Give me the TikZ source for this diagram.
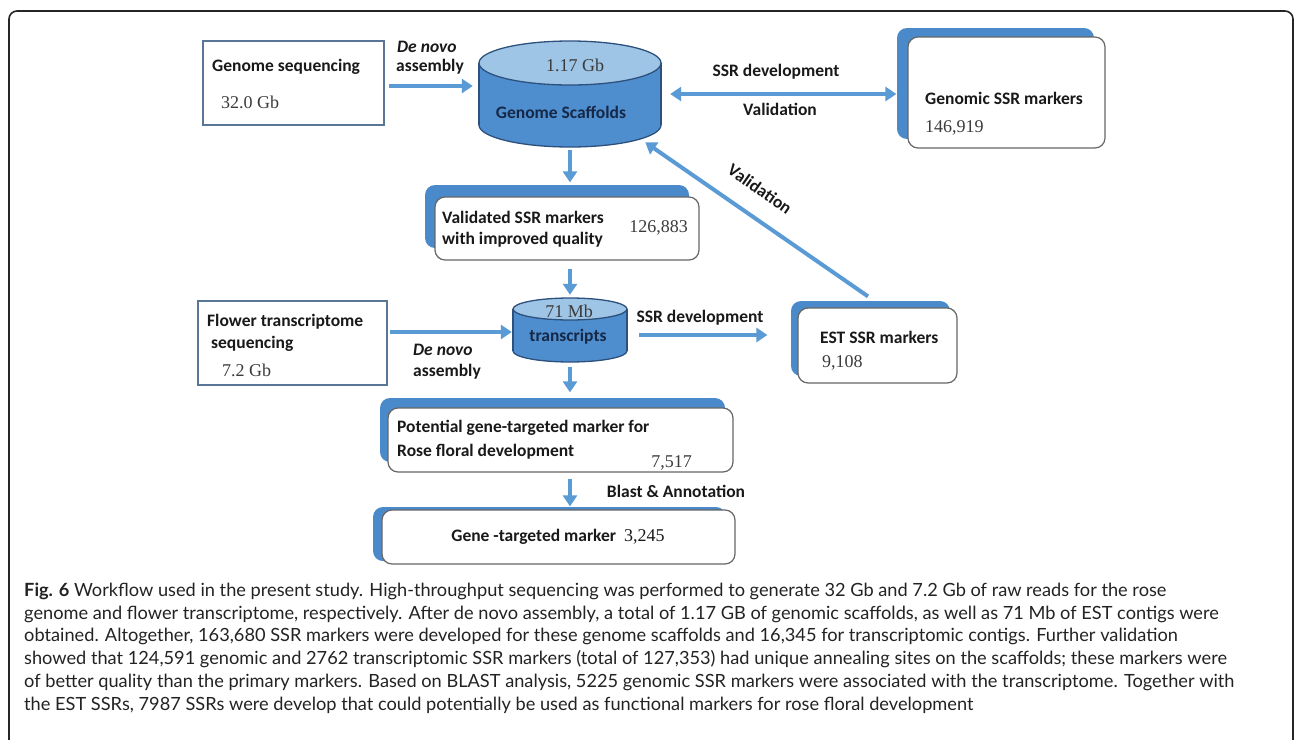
\documentclass[tikz,border=0pt]{standalone}
\usepackage{fontspec}
\setmainfont{Liberation Serif}
\newfontfamily\labfont{Carlito}
\newfontfamily\capfont{Lato}
\usetikzlibrary{arrows.meta,shadows}
\definecolor{arrblue}{RGB}{91,155,213}
\definecolor{backblue}{RGB}{74,137,202}
\definecolor{cylside}{RGB}{78,142,206}
\definecolor{cyltop}{RGB}{158,196,230}
\definecolor{cylline}{RGB}{45,80,125}
\definecolor{boxline}{RGB}{90,118,150}
\definecolor{txt}{RGB}{25,25,25}
\definecolor{captxt}{RGB}{35,35,35}
\definecolor{navy}{RGB}{22,40,70}
\begin{document}
\begin{tikzpicture}[x=1pt,y=-1pt,
  >={Triangle[length=11pt,width=14pt]},
  lab/.style={font=\labfont\bfseries\fontsize{17.5}{20}\selectfont, text=txt, inner sep=0pt},
  num/.style={font=\fontsize{18}{20}\selectfont, text=txt!85, inner sep=0pt},
  capline/.style={font=\capfont\fontsize{18.2}{21}\selectfont, text=captxt, inner sep=0pt, anchor=base west},
  arr/.style={draw=arrblue, line width=4.5pt},
  sbox/.style={draw=boxline, line width=1.6pt, fill=white, inner sep=0pt},
  wbox/.style={draw=black!60, line width=1.2pt, fill=white, rounded corners=10pt, inner sep=0pt},
  anchorbox/.style={inner sep=0pt}
]
\useasboundingbox (0,0) rectangle (1295,739);
\fill[white] (0,0) rectangle (1295,739);
% outer frame
\draw[black!85, line width=1.6pt, rounded corners=8pt] (9,745) -- (9,11) -- (1293,11) -- (1293,745);

% Genome sequencing box
\node[sbox, minimum width=181pt, minimum height=84pt] (gseq) at (293.5,83) {};
\node[lab, anchor=west] (gseqt) at (212,67) {Genome sequencing};
\node[num, anchor=west] (gseqn) at (221,102) {32.0 Gb};

% Genome scaffolds cylinder
\node[anchorbox, minimum width=182pt, minimum height=106pt] (gs) at (570,94) {};
\filldraw[fill=cylside, draw=cylline, line width=1.3pt] (570,125) ellipse [x radius=91, y radius=22];
\fill[cylside] (479,63) rectangle (661,125);
\draw[cylline, line width=1.3pt] (479,63) -- (479,125) (661,63) -- (661,125);
\filldraw[fill=cyltop, draw=cylline, line width=1.3pt] (570,63) ellipse [x radius=91, y radius=22];
\node[num] (gsn) at (575,65) {1.17 Gb};
\node[lab, text=navy] (gst) at (561,112) {Genome Scaffolds};

% Genomic SSR markers
\node[wbox, copy shadow={shadow xshift=-11pt, shadow yshift=9pt, fill=backblue, draw=none}, minimum width=197pt, minimum height=111pt] (gssr) at (1006.5,92.5) {};
\node[lab, anchor=west] (gssrt) at (925,98) {Genomic SSR markers};
\node[num, anchor=west] (gssrn) at (925,128) {146,919};

% Validated box
\node[wbox, copy shadow={shadow xshift=-10pt, shadow yshift=12pt, fill=backblue, draw=none}, minimum width=264pt, minimum height=63pt] (val) at (567,228.5) {};
\node[lab, anchor=west] (valt1) at (442,217) {Validated SSR markers};
\node[lab, anchor=west] (valt2) at (442,240) {with improved quality};
\node[num, anchor=east] (valn) at (688,228) {126,883};

% Flower transcriptome box
\node[sbox, minimum width=189pt, minimum height=84pt] (fl) at (292.5,343) {};
\node[lab, anchor=west] (flt1) at (207,322) {Flower transcriptome};
\node[lab, anchor=west] (flt2) at (211,344) {sequencing};
\node[num, anchor=west] (fln) at (222,370) {7.2 Gb};

% transcripts cylinder
\node[anchorbox, minimum width=114pt, minimum height=64pt] (tr) at (570,330) {};
\filldraw[fill=cylside, draw=cylline, line width=1.3pt] (570,351) ellipse [x radius=57, y radius=11];
\fill[cylside] (513,309) rectangle (627,351);
\draw[cylline, line width=1.3pt] (513,309) -- (513,351) (627,309) -- (627,351);
\filldraw[fill=cyltop, draw=cylline, line width=1.3pt] (570,309) ellipse [x radius=57, y radius=11];
\node[num] (trn) at (569,311) {71 Mb};
\node[lab, text=navy] (trt) at (568,337) {transcripts};

% EST SSR markers
\node[wbox, copy shadow={shadow xshift=-7pt, shadow yshift=7pt, fill=backblue, draw=none}, minimum width=159pt, minimum height=75pt] (est) at (877.5,345.5) {};
\node[lab, anchor=west] (estt) at (820,337) {EST SSR markers};
\node[num, anchor=west] (estn) at (822,363) {9,108};

% Potential box
\node[wbox, copy shadow={shadow xshift=-8pt, shadow yshift=10pt, fill=backblue, draw=none}, minimum width=345pt, minimum height=64pt] (pot) at (560.5,440) {};
\node[lab, anchor=west] (pott1) at (397,428) {Potential gene-targeted marker for};
\node[lab, anchor=west] (pott2) at (397,452) {Rose floral development};
\node[num, anchor=east] (potn) at (692,463) {7,517};

% Gene-targeted box
\node[wbox, copy shadow={shadow xshift=-9pt, shadow yshift=3pt, fill=backblue, draw=none}, minimum width=353pt, minimum height=54pt] (gene) at (558.5,537) {};
\node[lab] (genet) at (558,537) {Gene -targeted marker\ \ {\fontspec{Liberation Serif}\mdseries\fontsize{18}{20}\selectfont 3,245}};

% arrows
\draw[arr,->] ([xshift=4pt,yshift=-3pt]gseq.east) -- ([xshift=-6pt,yshift=-3pt]gseq.east -| gs.west);
\draw[arr,<->] ([xshift=9pt]gs.east) -- ([xshift=-11pt]gs.east -| gssr.west);
\draw[arr,line width=4pt,->] ([xshift=-9.5pt,yshift=11pt]est.north) -- ([xshift=-16pt,yshift=5pt]gs.south east);
\draw[arr,->] ([yshift=-3pt]gs.south) -- ([yshift=14pt]gs.south |- val.north);
\draw[arr,->] ([yshift=-8pt]gs.south |- val.south) -- ([yshift=3pt]gs.south |- tr.north);
\draw[arr,->] ([xshift=2pt,yshift=11pt]fl.east) -- ([xshift=-1pt,yshift=11pt]fl.east -| tr.west);
\draw[arr,->] ([xshift=12pt,yshift=-5pt]tr.east) -- ([xshift=-30pt,yshift=-5pt]tr.east -| est.west);
\draw[arr,->] ([yshift=-5pt]gs.south |- tr.south) -- ([yshift=15pt]gs.south |- pot.north);
\draw[arr,->] ([yshift=-6pt]gs.south |- pot.south) -- ([yshift=3pt]gs.south |- gene.north);

% arrow labels
\node[lab, anchor=west] (dn1) at (397,47) {\itshape De novo};
\node[lab, anchor=west] (as1) at (396,67) {assembly};
\node[lab] (ssr1) at (776,72) {SSR development};
\node[lab] (val1) at (780,109) {Validation};
\node[lab, rotate=-35] (val2) at (760,189) {Validation};
\node[lab, anchor=west] (dn2) at (413,350) {\itshape De novo};
\node[lab, anchor=west] (as2) at (413,372) {assembly};
\node[lab] (ssr2) at (700,318) {SSR development};
\node[lab] (blast) at (676,491) {Blast \& Annotation};

% caption
\node[capline] (cap1) at (24,596.5) {\textbf{Fig. 6} Workflow used in the present study. High-throughput sequencing was performed to generate 32 Gb and 7.2 Gb of raw reads for the rose};
\node[capline] (cap2) at (24,619.2) {genome and flower transcriptome, respectively. After de novo assembly, a total of 1.17 GB of genomic scaffolds, as well as 71 Mb of EST contigs were};
\node[capline] (cap3) at (24,641.9) {obtained. Altogether, 163,680 SSR markers were developed for these genome scaffolds and 16,345 for transcriptomic contigs. Further validation};
\node[capline] (cap4) at (24,664.6) {showed that 124,591 genomic and 2762 transcriptomic SSR markers (total of 127,353) had unique annealing sites on the scaffolds; these markers were};
\node[capline] (cap5) at (24,687.3) {of better quality than the primary markers. Based on BLAST analysis, 5225 genomic SSR markers were associated with the transcriptome. Together with};
\node[capline] (cap6) at (24,710) {the EST SSRs, 7987 SSRs were develop that could potentially be used as functional markers for rose floral development};
\end{tikzpicture}
\end{document}
